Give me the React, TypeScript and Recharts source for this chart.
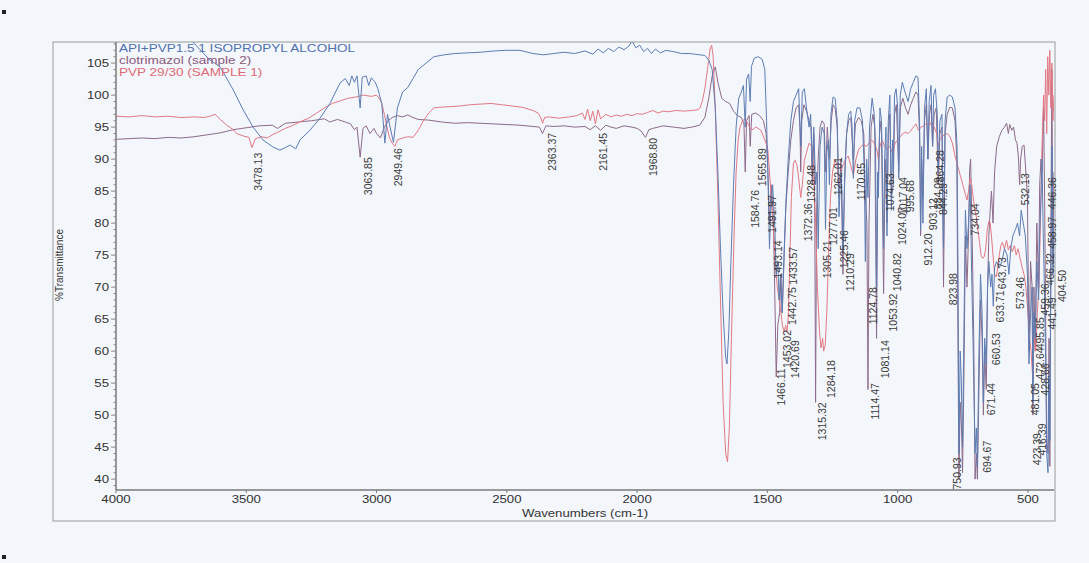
import { LineChart, Line, XAxis, YAxis, ReferenceDot } from "recharts";

type Pt = [number, number];

// wavenumber (cm-1), %T
const apiPvp: Pt[] = [
  [4000, 112], [3900, 111.5], [3800, 110.5], [3720, 109], [3680, 107.2], [3640, 105.5], [3600, 104.4],
  [3550, 100.8], [3512, 97.7], [3474, 95], [3436, 93], [3398, 91.9], [3371, 91.4], [3350, 91.8],
  [3332, 92.2], [3310, 91.6], [3294, 93], [3256, 94.5], [3217, 96.4], [3179, 98.7], [3140, 101.9],
  [3120, 102.6], [3105, 101.5], [3095, 103], [3085, 102], [3075, 103], [3063, 98], [3055, 102.8],
  [3040, 103], [3030, 101.5], [3020, 102.7], [3005, 102], [2995, 101], [2980, 98.7], [2968, 92.5],
  [2958, 97], [2948, 95], [2935, 92.6], [2920, 98], [2900, 100.5], [2880, 101.2], [2860, 102.6],
  [2840, 104], [2810, 105], [2780, 106], [2740, 106.3], [2700, 106.5], [2650, 106.6], [2600, 106.7],
  [2550, 106.9], [2500, 107], [2450, 107], [2400, 106.5], [2360, 106.3], [2320, 106.5], [2280, 106.7],
  [2240, 106.5], [2200, 106.9], [2170, 106.4], [2150, 107.2], [2130, 106.6], [2110, 107.3], [2090, 106.8],
  [2070, 107.5], [2050, 107.1], [2030, 107.7], [2020, 108.5], [2005, 107.4], [1990, 107.8], [1975, 106.8],
  [1960, 107.3], [1945, 106.5], [1930, 107.2], [1910, 106.6], [1890, 107], [1860, 106.8], [1830, 106.5],
  [1800, 106.5], [1780, 106.4], [1760, 106.3], [1740, 106.2], [1725, 105.5], [1712, 104], [1700, 98],
  [1690, 88], [1680, 76], [1670, 66], [1660, 59], [1655, 58], [1648, 63], [1640, 74], [1630, 86],
  [1620, 95], [1610, 99.5], [1600, 100.5], [1592, 101.5], [1585, 95], [1580, 102.5], [1572, 103.3],
  [1566, 99], [1561, 104.5], [1550, 105.8], [1535, 106], [1520, 105.6], [1510, 104], [1503, 96],
  [1496, 84], [1492, 76], [1487, 82], [1480, 86], [1472, 80], [1466, 72], [1460, 74], [1455, 68],
  [1450, 72], [1443, 66], [1438, 72], [1434, 77], [1428, 84], [1420, 90], [1410, 96], [1400, 99],
  [1390, 100], [1380, 101], [1372, 92], [1366, 100.5], [1358, 101], [1350, 98], [1340, 95], [1334, 97],
  [1328, 89], [1322, 95], [1315, 86], [1310, 88], [1305, 76], [1298, 92], [1290, 95], [1282, 94],
  [1277, 79], [1272, 91], [1266, 93], [1262, 86], [1256, 97], [1248, 99.7], [1240, 99.5], [1232, 96],
  [1225, 81], [1219, 88], [1214, 85], [1210, 76], [1204, 86], [1196, 94], [1188, 97], [1180, 97.5],
  [1175, 95], [1170, 87], [1165, 96], [1156, 98], [1145, 98], [1135, 96], [1128, 88], [1124, 74],
  [1119, 90], [1114, 84], [1108, 95], [1098, 99.5], [1090, 97], [1085, 92], [1081, 70], [1077, 88],
  [1074, 84], [1068, 98], [1062, 96], [1057, 84], [1054, 76], [1050, 90], [1045, 95], [1041, 78],
  [1036, 96], [1030, 100], [1024, 82], [1020, 93], [1017, 88], [1012, 100], [1006, 101], [1000, 98],
  [996, 87], [990, 100], [982, 102], [972, 100.5], [960, 99], [950, 101], [940, 102], [930, 103],
  [922, 102.8], [916, 96], [912, 79], [908, 92], [903, 80], [897, 98], [890, 101], [884, 90], [879, 99],
  [872, 101.5], [866, 92], [862, 100], [855, 101], [848, 97], [844, 88], [838, 96], [830, 97], [824, 76],
  [818, 96], [810, 99.7], [800, 100], [790, 99.7], [780, 98], [772, 92], [768, 70], [765, 44], [760, 60],
  [756, 56], [751, 45], [746, 62], [740, 82], [734, 76], [728, 80], [722, 86], [716, 72], [710, 60],
  [703, 44], [698, 48], [694, 42], [688, 60], [682, 72], [676, 66], [671, 52], [666, 62], [660, 58],
  [655, 70], [650, 74], [643, 70], [638, 72], [633, 67], [628, 73], [620, 74], [610, 73], [600, 74],
  [590, 76], [580, 75], [573, 72], [566, 76], [558, 78], [548, 79], [540, 80], [532, 78], [526, 82],
  [518, 80], [510, 78], [502, 72], [496, 58], [490, 66], [484, 70], [481, 52], [477, 66], [472, 62],
  [466, 74], [459, 68], [455, 78], [450, 84], [446, 90], [442, 80], [436, 68], [431, 56], [428, 44],
  [423, 41], [419, 56], [416, 46], [412, 70], [408, 92], [404, 72], [401, 78], [400, 80],
];

const clotrimazol: Pt[] = [
  [4000, 93.1], [3950, 93.2], [3900, 93.3], [3850, 93.2], [3800, 93.4], [3750, 93.3], [3700, 93.5],
  [3650, 93.8], [3600, 94.1], [3550, 94.6], [3500, 94.9], [3450, 95.2], [3400, 95.3], [3380, 94.8],
  [3350, 95.6], [3300, 95.8], [3250, 96], [3200, 96.3], [3180, 95.8], [3150, 96.2], [3120, 95.8],
  [3100, 95.5], [3085, 94.6], [3075, 95], [3063, 90.3], [3052, 94.8], [3040, 95.2], [3025, 94],
  [3010, 94.8], [3000, 94], [2985, 93.3], [2970, 95], [2955, 96], [2940, 96.5], [2920, 96.8], [2900, 96.6],
  [2880, 96.9], [2860, 96.5], [2840, 96.2], [2800, 96.1], [2750, 95.8], [2700, 95.6], [2650, 95.7],
  [2600, 95.6], [2550, 95.5], [2500, 95.4], [2450, 95.3], [2400, 95.1], [2375, 95], [2363, 94],
  [2350, 95.2], [2320, 95.1], [2280, 95.2], [2240, 95], [2200, 95.1], [2180, 94.6], [2160, 95.2],
  [2140, 94.5], [2120, 95.3], [2100, 95], [2080, 94.8], [2050, 95.2], [2020, 95], [2000, 94.8],
  [1985, 94.4], [1968, 93.4], [1955, 94.6], [1940, 94.8], [1900, 95.2], [1860, 95], [1820, 94.8],
  [1790, 95], [1760, 95.3], [1740, 96.5], [1725, 99.5], [1712, 103], [1700, 104.4], [1690, 102],
  [1675, 99.5], [1660, 99], [1645, 98.7], [1630, 97.5], [1615, 96.8], [1600, 96.5], [1590, 95.5],
  [1585, 88], [1580, 96], [1570, 96.8], [1566, 92], [1560, 97], [1545, 97.2], [1530, 96.8], [1515, 96],
  [1505, 94], [1498, 88], [1492, 80], [1486, 86], [1478, 82], [1472, 70], [1466, 56], [1460, 64],
  [1453, 66], [1448, 72], [1443, 66], [1437, 74], [1430, 82], [1420, 88], [1410, 93], [1400, 96],
  [1390, 98], [1380, 98.5], [1375, 95], [1372, 88], [1368, 96], [1360, 98.5], [1350, 97.5], [1340, 96],
  [1332, 95], [1328, 86], [1322, 94], [1318, 80], [1315, 52], [1311, 82], [1305, 90], [1298, 95],
  [1290, 96], [1282, 95.5], [1277, 88], [1270, 95], [1262, 90], [1255, 96], [1248, 98.5], [1240, 98],
  [1232, 95], [1225, 84], [1218, 90], [1210, 72], [1203, 88], [1196, 94], [1188, 96], [1180, 96.5],
  [1170, 90], [1162, 95.5], [1150, 96.5], [1140, 96], [1130, 94], [1124, 84], [1118, 80], [1114, 54],
  [1110, 80], [1102, 95], [1095, 97], [1088, 95], [1081, 62], [1077, 84], [1074, 88], [1068, 96],
  [1062, 94], [1054, 69], [1048, 90], [1041, 80], [1036, 94], [1030, 97], [1024, 84], [1017, 86],
  [1012, 97], [1005, 98.5], [996, 88], [990, 98], [980, 99.5], [970, 98], [960, 97], [950, 98.5],
  [940, 99.5], [930, 100.5], [922, 100], [916, 94], [912, 78], [908, 90], [903, 84], [897, 96],
  [890, 98.5], [884, 90], [878, 97], [872, 98.5], [866, 92], [860, 97], [852, 98], [844, 86], [838, 94],
  [830, 95], [824, 70], [818, 94], [810, 97], [800, 98.1], [790, 98], [780, 96], [773, 90], [768, 58],
  [765, 40], [760, 52], [755, 48], [751, 41], [746, 55], [740, 78], [734, 70], [728, 78], [724, 88],
  [720, 90], [714, 78], [708, 62], [703, 40], [698, 44], [694, 40], [688, 54], [682, 68], [676, 62],
  [671, 50], [666, 60], [660, 54], [655, 70], [650, 78], [645, 82], [640, 85], [634, 80], [628, 88],
  [620, 92], [610, 93.5], [600, 94.5], [590, 95], [582, 95.6], [575, 94], [570, 95.4], [562, 94.5],
  [555, 95], [548, 93], [542, 92.5], [536, 90], [532, 86], [528, 90], [522, 92], [515, 92.2], [508, 88],
  [502, 84], [496, 60], [490, 74], [484, 70], [481, 50], [477, 70], [472, 60], [466, 80], [459, 70],
  [455, 86], [450, 90], [446, 88], [440, 98], [436, 84], [431, 60], [428, 46], [423, 44], [419, 62],
  [416, 42], [412, 80], [408, 104], [404, 74], [401, 86], [400, 88],
];

const pvp: Pt[] = [
  [4000, 96.7], [3950, 96.6], [3900, 96.8], [3850, 96.6], [3800, 96.7], [3750, 96.5], [3700, 96.6],
  [3660, 96.5], [3640, 96.7], [3620, 97], [3600, 96.2], [3575, 95.3], [3550, 94.6], [3537, 94],
  [3510, 93.6], [3490, 93.4], [3478, 91.8], [3465, 93.2], [3440, 93.5], [3420, 93.3], [3400, 93.8],
  [3380, 94.2], [3350, 94.8], [3320, 95.3], [3290, 95.9], [3260, 96.4], [3230, 97.2], [3200, 98],
  [3170, 98.7], [3140, 99.1], [3110, 99.5], [3080, 99.7], [3050, 100], [3020, 99.8], [3000, 100],
  [2990, 99.5], [2980, 98.7], [2970, 97], [2960, 95], [2950, 93.3], [2940, 92.5], [2930, 92],
  [2920, 93], [2900, 93.3], [2880, 93.5], [2860, 93.4], [2840, 94.5], [2820, 96], [2800, 97.2],
  [2780, 98], [2760, 98.1], [2720, 98.2], [2680, 98.3], [2640, 98.5], [2600, 98.6], [2560, 98.7],
  [2520, 98.5], [2480, 98.3], [2440, 98.1], [2400, 97.6], [2380, 97.2], [2370, 96.5], [2363, 95.6],
  [2355, 96.5], [2340, 96.6], [2300, 96.4], [2260, 96.6], [2230, 96.8], [2210, 97.2], [2200, 96.2],
  [2190, 97.8], [2180, 96], [2170, 97.5], [2160, 95.5], [2150, 97.7], [2140, 96.3], [2120, 97],
  [2100, 96.6], [2080, 96.9], [2060, 96.7], [2040, 97], [2020, 96.8], [2000, 97.1], [1980, 97],
  [1960, 97.3], [1940, 97.6], [1920, 97.2], [1900, 97.5], [1880, 97.4], [1850, 97.6], [1820, 97.5],
  [1790, 97.6], [1770, 97.7], [1760, 97.9], [1750, 99], [1740, 101], [1730, 104], [1720, 107.2],
  [1714, 107.8], [1708, 106], [1700, 98], [1690, 84], [1680, 68], [1670, 52], [1660, 44], [1653, 42.7],
  [1646, 48], [1638, 62], [1628, 78], [1620, 88], [1612, 93], [1605, 95], [1595, 96], [1585, 96.3],
  [1575, 95.5], [1565, 94.8], [1555, 94.6], [1545, 95], [1535, 94.8], [1525, 94.5], [1515, 93.5],
  [1505, 92.5], [1498, 91.4], [1492, 88], [1485, 84], [1478, 80], [1470, 74], [1462, 70], [1455, 68],
  [1448, 66], [1442, 64], [1436, 63], [1430, 64], [1425, 63], [1420, 65], [1414, 74], [1408, 84],
  [1400, 89.4], [1394, 89.8], [1386, 89], [1380, 87], [1372, 84], [1366, 86], [1358, 89.8], [1350, 91],
  [1340, 92.5], [1330, 92], [1322, 88], [1315, 80], [1308, 70], [1300, 63], [1294, 60.5], [1288, 62],
  [1284, 60], [1278, 61], [1272, 66], [1266, 74], [1258, 84], [1250, 88], [1240, 90], [1232, 89],
  [1225, 86], [1218, 88], [1210, 89], [1200, 90], [1190, 90.5], [1180, 89], [1170, 87.5], [1160, 90],
  [1150, 91.5], [1140, 92], [1130, 92.3], [1120, 92], [1110, 92.5], [1100, 93], [1090, 92.5],
  [1080, 91.5], [1074, 90], [1068, 92], [1060, 93], [1050, 92], [1040, 91.5], [1030, 92], [1020, 91],
  [1010, 92.5], [1000, 93], [990, 93.5], [980, 94], [970, 94.2], [960, 94], [950, 94.4], [940, 95],
  [930, 95.5], [920, 94.5], [910, 95], [900, 95.2], [890, 95.6], [880, 95.2], [870, 95.8], [860, 95],
  [850, 94], [844, 92], [838, 93], [830, 93.5], [820, 93.8], [810, 94], [800, 93.6], [790, 92.5],
  [780, 90.5], [770, 89], [760, 87.5], [750, 86], [740, 84.5], [734, 83.6], [728, 85], [722, 87],
  [716, 86], [710, 84], [704, 82], [698, 81], [692, 79], [686, 77], [680, 75], [674, 74.5], [668, 74.7],
  [662, 76], [656, 79], [650, 80.3], [645, 80], [640, 78], [634, 75], [628, 72], [622, 71.6], [616, 73],
  [610, 75], [604, 76.5], [598, 77], [590, 76], [582, 77.3], [575, 75.8], [568, 76.5], [560, 75.5],
  [552, 76.5], [545, 75], [538, 76], [530, 74.5], [522, 73], [515, 72], [508, 70], [500, 66], [494, 62],
  [488, 60], [482, 56], [476, 62], [470, 60], [464, 66], [458, 70], [452, 80], [446, 92], [440, 100],
  [436, 96], [432, 104], [428, 94], [424, 106], [420, 100], [416, 107], [412, 98], [408, 105],
  [404, 96], [400, 100],
];

// peak label text, label centre (cm-1), top of label (%T)
const peakLabels: [string, number, number][] = [
  ["3478.13", 3455, 91.0], ["3063.85", 3033, 90.3], ["2949.46", 2918, 91.7],
  ["2363.37", 2328, 94.1], ["2161.45", 2131, 94.1], ["1968.80", 1939, 93.3],
  ["1584.76", 1548, 85.2], ["1565.89", 1522, 91.7], ["1491.97", 1484, 84.4],
  ["1493.14", 1459, 77.3], ["1433.57", 1401, 76.3], ["1442.75", 1407, 70],
  ["1453.02", 1426, 63.3], ["1420.69", 1394, 61.7], ["1466.11", 1446, 57.3],
  ["1372.36", 1344, 83.1], ["1328.48", 1331, 89.1], ["1315.32", 1292, 52],
  ["1305.21", 1273, 77.3], ["1284.18", 1254, 58.6], ["1277.01", 1248, 82.5],
  ["1262.01", 1228, 90.3], ["1225.46", 1207, 78.9], ["1210.29", 1184, 75.3],
  ["1170.65", 1139, 89.4], ["1124.78", 1094, 70], ["1114.47", 1088, 55],
  ["1081.14", 1049, 61.7], ["1053.92", 1017, 69], ["1074.63", 1030, 87.8],
  ["1040.82", 1004, 75.3], ["1024.07", 985, 82.5], ["1017.04", 981, 87.2],
  ["995.68", 953, 86.7], ["912.20", 883, 78.4], ["903.12", 864, 83.9],
  ["884.09", 845, 87.2], ["864.28", 838, 91.4], ["844.29", 825, 86.3],
  ["823.98", 787, 72.2], ["750.93", 774, 43.4], ["734.04", 704, 83.1],
  ["694.67", 659, 46], ["671.44", 640, 55], ["660.53", 621, 62.8],
  ["643.73", 601, 74.7], ["633.71", 608, 69.5], ["573.46", 531, 71.6],
  ["532.13", 512, 87.8], ["446.36", 409, 87.2], ["458.97", 409, 81],
  ["466.32", 416, 75.3], ["404.50", 371, 72.7], ["495.85", 454, 65.3],
  ["459.36", 435, 70.6], ["472.64", 454, 60.6], ["441.49", 409, 68.4],
  ["481.05", 474, 55], ["428.66", 435, 58.1], ["416.39", 447, 48.7],
  ["423.39", 467, 47.2],
];

const xTicks = [4000, 3500, 3000, 2500, 2000, 1500, 1000, 500];
const yMajor = [40, 45, 50, 55, 60, 65, 70, 75, 80, 85, 90, 95, 100, 105];
const yTicks = Array.from({ length: 70 }, (_, i) => 39 + i);

const legend = [
  { name: "API+PVP1.5 1 ISOPROPYL ALCOHOL", color: "#4f72ad" },
  { name: "clotrimazol (sample 2)", color: "#8a5a7c" },
  { name: "PVP 29/30 (SAMPLE 1)", color: "#de6a76" },
];

const FONT = "'Liberation Sans', Arial, sans-serif";
// the scan is stretched sideways, so flat text is widened a bit
const STRETCH = 1.2;
const toRows = (pts: Pt[]) => pts.map(([wn, t]) => ({ wn, t }));

function YTick(props: any) {
  const { x, y, payload } = props;
  const v = payload.value;
  const major = yMajor.includes(v);
  return (
    <g>
      <line x1={x - (major ? 5 : 2.5)} x2={x} y1={y} y2={y} stroke="#8a8a8a" strokeWidth={1} />
      {major && (
        <text
          transform={`translate(${x - 7} ${y}) scale(${STRETCH} 1)`}
          dy={4}
          textAnchor="end"
          fontSize={11}
          fill="#333"
          fontFamily={FONT}
        >
          {v}
        </text>
      )}
    </g>
  );
}

function XTick(props: any) {
  const { x, y, payload } = props;
  return (
    <text
      transform={`translate(${x} ${y}) scale(${STRETCH} 1)`}
      dy={7}
      textAnchor="middle"
      fontSize={11}
      fill="#333"
      fontFamily={FONT}
    >
      {payload.value}
    </text>
  );
}

function PeakLabel(text: string) {
  return (props: any) => {
    const { cx, cy } = props;
    return (
      <text
        x={cx}
        y={cy}
        transform={`rotate(-90 ${cx} ${cy})`}
        textAnchor="end"
        dominantBaseline="central"
        fontSize={10.5}
        fill="#3a3a3a"
        fontFamily={FONT}
      >
        {text}
      </text>
    );
  };
}

export default function App() {
  return (
    <div style={{ position: "absolute", left: 0, top: 0, width: 1089, height: 563, background: "#f3f6fb", overflow: "hidden" }}>
      <svg width={1089} height={563} style={{ position: "absolute", left: 0, top: 0 }}>
        <rect x={53} y={42} width={1002} height={479} fill="none" stroke="#9a9a9a" strokeWidth={1} />
        <rect x={2} y={10} width={4} height={4} fill="#222" />
        <rect x={2} y={555} width={4} height={4} fill="#222" />
        <text
          x={63}
          y={265}
          transform="rotate(-90 63 265)"
          textAnchor="middle"
          fontSize={10}
          fill="#333"
          fontFamily={FONT}
        >
          %Transmittance
        </text>
        <text
          transform={`translate(585 517) scale(${STRETCH} 1)`}
          textAnchor="middle"
          fontSize={11}
          fill="#333"
          fontFamily={FONT}
        >
          Wavenumbers (cm-1)
        </text>
      </svg>
      <div style={{ position: "absolute", left: 0, top: 0 }}>
        <LineChart width={1089} height={563} margin={{ top: 42, right: 35, bottom: 43, left: 56 }}>
          <XAxis
            type="number"
            dataKey="wn"
            domain={[400, 4000]}
            reversed
            ticks={xTicks}
            height={30}
            tickSize={3}
            tickMargin={3}
            axisLine={{ stroke: "#7a7a7a", strokeWidth: 1.5 }}
            tickLine={{ stroke: "#7a7a7a" }}
            tick={<XTick />}
            allowDataOverflow
          />
          <YAxis
            type="number"
            domain={[38.3, 108.3]}
            ticks={yTicks}
            width={60}
            tickSize={0}
            tickMargin={0}
            tickLine={false}
            axisLine={{ stroke: "#7a7a7a", strokeWidth: 1.5 }}
            tick={<YTick />}
            interval={0}
            allowDataOverflow
          />
          <Line data={toRows(clotrimazol)} dataKey="t" type="linear" stroke="#8d6a8a" strokeWidth={1} dot={false} isAnimationActive={false} />
          <Line data={toRows(pvp)} dataKey="t" type="linear" stroke="#e27984" strokeWidth={1} dot={false} isAnimationActive={false} />
          <Line data={toRows(apiPvp)} dataKey="t" type="linear" stroke="#5d7db3" strokeWidth={1} dot={false} isAnimationActive={false} />
          {peakLabels.map(([text, wn, top]) => (
            <ReferenceDot key={text} x={wn} y={top} r={0} ifOverflow="visible" shape={PeakLabel(text)} />
          ))}
        </LineChart>
      </div>
      <svg width={1089} height={563} style={{ position: "absolute", left: 0, top: 0, pointerEvents: "none" }}>
        {legend.map((l, i) => (
          <text
            key={l.name}
            transform={`translate(119 ${52 + i * 12}) scale(1.23 1)`}
            fontSize={11}
            fill={l.color}
            fontFamily={FONT}
          >
            {l.name}
          </text>
        ))}
      </svg>
    </div>
  );
}
